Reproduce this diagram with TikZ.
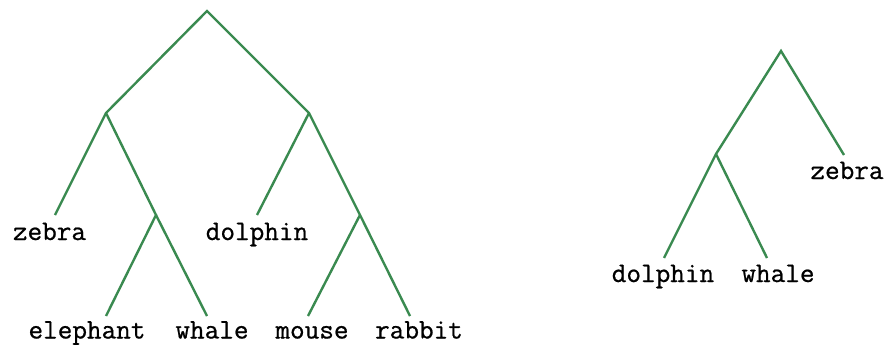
\documentclass[tikz,border=0pt]{standalone}
\usepackage{fontspec}
\newfontfamily\leaffont{Latin Modern Mono}[FakeBold=0.7]
\definecolor{treegreen}{RGB}{58,138,80}
\begin{document}
\begin{tikzpicture}[x=1pt,y=-1pt,
  branch/.style={draw=treegreen, line width=2.4pt},
  leaf/.style={inner sep=0pt, anchor=base, font=\leaffont\fontsize{28.4}{30}\selectfont}]
\useasboundingbox (0,0) rectangle (886,345);
% left tree
\coordinate (r) at (207,11);
\coordinate (a) at (106,113);
\coordinate (b) at (309,113);
\coordinate (c) at (156,215);
\coordinate (d) at (360,215);
\coordinate (zE) at (55,215);
\coordinate (dE) at (257,215);
\coordinate (eE) at (106,316);
\coordinate (wE) at (207,316);
\coordinate (mE) at (308,316);
\coordinate (rE) at (410,316);
\node[leaf] (zebra) at (49.5,240) {zebra};
\node[leaf] (dolphin) at (257,240) {dolphin};
\node[leaf] (elephant) at (87,338.5) {elephant};
\node[leaf] (whale) at (212,338.5) {whale};
\node[leaf] (mouse) at (312,338.5) {mouse};
\node[leaf] (rabbit) at (419,338.5) {rabbit};
\draw[branch] (zE) -- (a) -- (r) -- (b) -- (d) -- (rE);
\draw[branch] (a) -- (c) -- (eE);
\draw[branch] (c) -- (wE);
\draw[branch] (b) -- (dE);
\draw[branch] (d) -- (mE);
% right tree
\coordinate (r2) at (781,51);
\coordinate (e2) at (716,154);
\coordinate (z2E) at (844,155);
\coordinate (d2E) at (664,258);
\coordinate (w2E) at (767,258);
\node[leaf] (zebra2) at (847,179) {zebra};
\node[leaf] (dolphin2) at (663,282) {dolphin};
\node[leaf] (whale2) at (778,282) {whale};
\draw[branch] (d2E) -- (e2) -- (r2) -- (z2E);
\draw[branch] (e2) -- (w2E);
\end{tikzpicture}
\end{document}
